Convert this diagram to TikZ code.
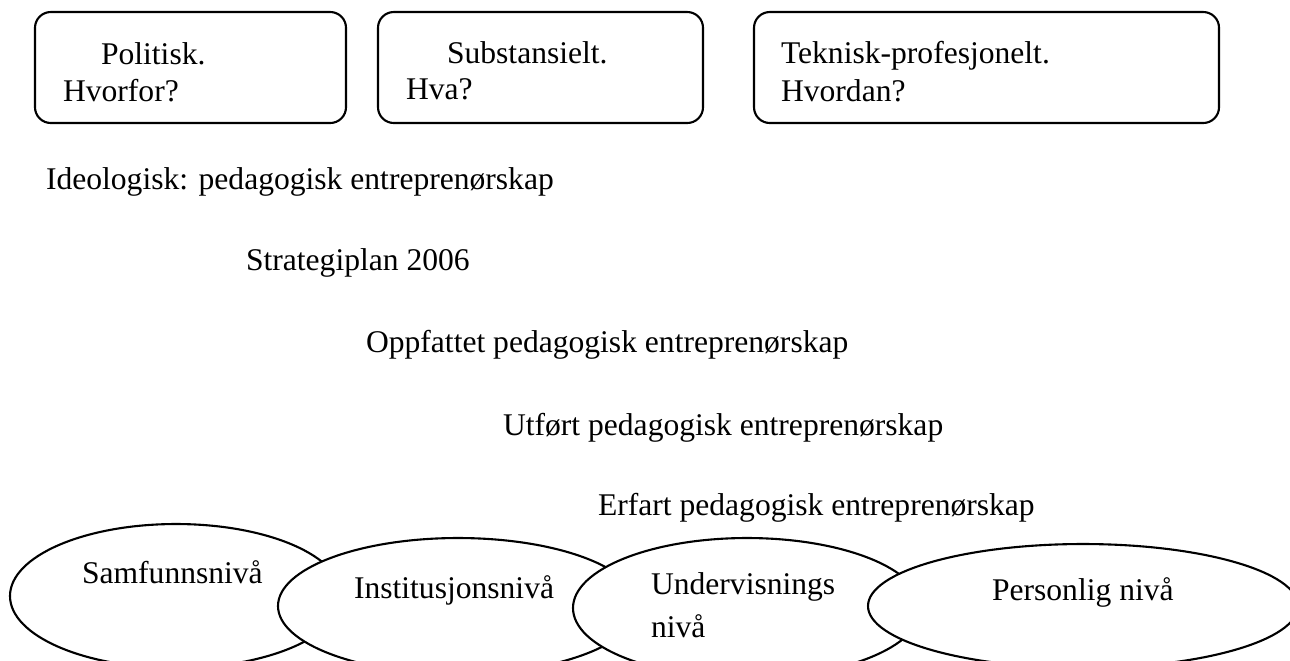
\documentclass[tikz,border=0pt]{standalone}
\usepackage{fontspec}
\setmainfont{Liberation Serif}
\usetikzlibrary{shapes.geometric}
\newcommand{\px}{0.38pt}
\begin{document}
\begin{tikzpicture}[x=\px,y=-\px,font=\fontsize{12}{14}\selectfont,line width=0.8pt,
  frame/.style={draw,rounded corners=6pt},
  level/.style={draw,ellipse,fill=white,inner sep=0pt},
  txt/.style={anchor=base west,inner sep=0pt}]
  \clip (0,0) rectangle (1290,660);
  \draw[frame] (35,12) rectangle (346,123);
  \draw[frame] (378,12) rectangle (703,123);
  \draw[frame] (754,12) rectangle (1219,123);
  \node (pol) [txt] at (100,64) {Politisk.};
  \node (polq) [txt] at (62,101) {Hvorfor?};
  \node (sub) [txt] at (446,63) {Substansielt.};
  \node (subq) [txt] at (405,99) {Hva?};
  \node (tek) [txt] at (780,63) {Teknisk-profesjonelt.};
  \node (tekq) [txt] at (780,101) {Hvordan?};
  \node (ideo) [txt] at (45,189) {Ideologisk: pedagogisk entreprenørskap};
  \node (plan) [txt] at (245,270) {Strategiplan 2006};
  \node (oppf) [txt] at (365,352) {Oppfattet pedagogisk entreprenørskap};
  \node (utf) [txt] at (502,435) {Utført pedagogisk entreprenørskap};
  \node (erf) [txt] at (597,515) {Erfart pedagogisk entreprenørskap};
  \node (samf) [level,minimum width=332*\px,minimum height=144*\px] at (176,596) {};
  \node (inst) [level,minimum width=360*\px,minimum height=136*\px] at (458,606) {};
  \node (und) [level,minimum width=348*\px,minimum height=140*\px] at (747,608) {};
  \node (pers) [level,minimum width=430*\px,minimum height=124*\px] at (1083,606) {};
  \node (samft) [txt] at (81,583) {Samfunnsnivå};
  \node (instt) [txt] at (353,598) {Institusjonsnivå};
  \node (undt) [txt] at (650,594) {Undervisnings};
  \node (undn) [txt] at (650,637) {nivå};
  \node (perst) [txt] at (991,600) {Personlig nivå};
\end{tikzpicture}
\end{document}
